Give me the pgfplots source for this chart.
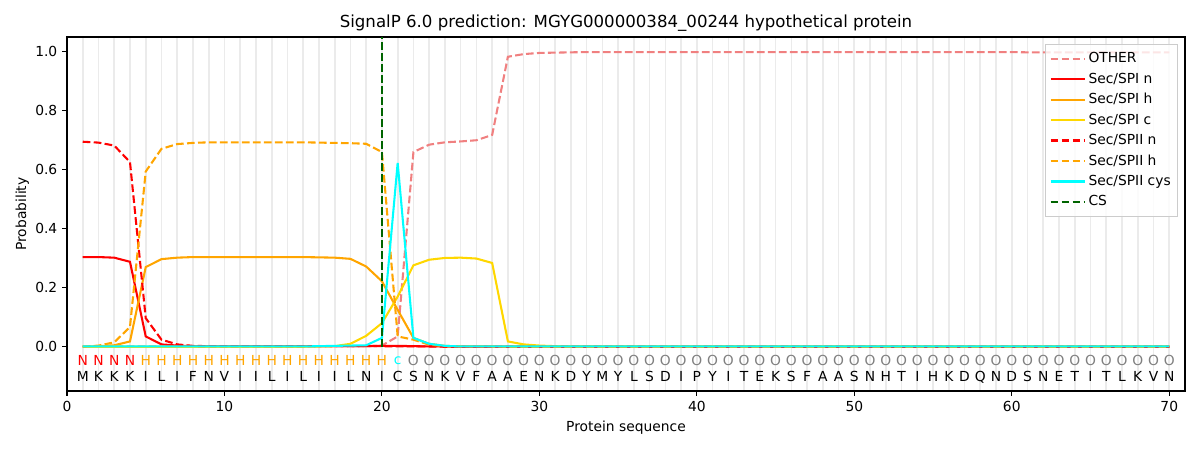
\documentclass[border=0pt]{standalone}
\usepackage{fontspec}
\setmainfont{DejaVu Sans}
\usepackage{pgfplots}
\usepackage{pgfplotstable}
\pgfplotsset{compat=1.18}
\definecolor{other}{HTML}{F08080}
\definecolor{myorange}{HTML}{FFA500}
\definecolor{mygold}{HTML}{FFD700}
\definecolor{mycyan}{HTML}{00FFFF}
\definecolor{mygreen}{HTML}{006400}
\definecolor{mygrid}{HTML}{EBEBEB}
\tikzset{reslab/.style={font=\fontsize{10}{12}\selectfont, inner sep=0pt, anchor=center}}

\pgfplotstableread{
x other spin spih spic spiin spiih cys
1 0.001 0.304 0.000 0.000 0.695 0.000 0.001
2 0.001 0.304 0.002 0.000 0.692 0.004 0.001
3 0.001 0.302 0.005 0.000 0.682 0.015 0.001
4 0.001 0.288 0.018 0.000 0.626 0.067 0.001
5 0.001 0.035 0.270 0.000 0.097 0.594 0.001
6 0.001 0.008 0.297 0.000 0.024 0.671 0.001
7 0.001 0.004 0.302 0.000 0.008 0.687 0.001
8 0.001 0.002 0.304 0.000 0.003 0.691 0.001
9 0.001 0.002 0.304 0.000 0.002 0.693 0.001
10 0.001 0.002 0.304 0.000 0.002 0.693 0.001
11 0.001 0.002 0.304 0.000 0.002 0.693 0.001
12 0.001 0.002 0.304 0.000 0.002 0.693 0.001
13 0.001 0.002 0.304 0.000 0.002 0.693 0.001
14 0.001 0.002 0.304 0.000 0.002 0.693 0.001
15 0.001 0.002 0.304 0.000 0.002 0.693 0.001
16 0.001 0.002 0.303 0.001 0.002 0.692 0.002
17 0.001 0.002 0.302 0.002 0.002 0.691 0.003
18 0.001 0.002 0.298 0.010 0.002 0.690 0.004
19 0.002 0.002 0.272 0.037 0.002 0.688 0.005
20 0.004 0.003 0.222 0.080 0.002 0.660 0.030
21 0.035 0.003 0.125 0.170 0.001 0.035 0.623
22 0.660 0.002 0.030 0.276 0.001 0.024 0.030
23 0.685 0.001 0.010 0.295 0.001 0.007 0.010
24 0.693 0.001 0.003 0.301 0.000 0.002 0.003
25 0.696 0.000 0.001 0.302 0.000 0.001 0.001
26 0.700 0.000 0.001 0.299 0.000 0.001 0.001
27 0.718 0.000 0.001 0.284 0.000 0.001 0.001
28 0.983 0.000 0.000 0.018 0.000 0.000 0.001
29 0.992 0.000 0.000 0.008 0.000 0.000 0.001
30 0.996 0.000 0.000 0.004 0.000 0.000 0.001
31 0.997 0.000 0.000 0.002 0.000 0.000 0.001
32 0.998 0.000 0.000 0.001 0.000 0.000 0.001
33 0.999 0.000 0.000 0.001 0.000 0.000 0.001
34 0.999 0.000 0.000 0.001 0.000 0.000 0.001
35 0.999 0.000 0.000 0.001 0.000 0.000 0.001
36 0.999 0.000 0.000 0.001 0.000 0.000 0.001
37 0.999 0.000 0.000 0.001 0.000 0.000 0.001
38 0.999 0.000 0.000 0.001 0.000 0.000 0.001
39 0.999 0.000 0.000 0.001 0.000 0.000 0.001
40 0.999 0.000 0.000 0.001 0.000 0.000 0.001
41 0.999 0.000 0.000 0.001 0.000 0.000 0.001
42 0.999 0.000 0.000 0.001 0.000 0.000 0.001
43 0.999 0.000 0.000 0.001 0.000 0.000 0.001
44 0.999 0.000 0.000 0.001 0.000 0.000 0.001
45 0.999 0.000 0.000 0.001 0.000 0.000 0.001
46 0.999 0.000 0.000 0.001 0.000 0.000 0.001
47 0.999 0.000 0.000 0.001 0.000 0.000 0.001
48 0.999 0.000 0.000 0.001 0.000 0.000 0.001
49 0.999 0.000 0.000 0.001 0.000 0.000 0.001
50 0.999 0.000 0.000 0.001 0.000 0.000 0.001
51 0.999 0.000 0.000 0.001 0.000 0.000 0.001
52 0.999 0.000 0.000 0.001 0.000 0.000 0.001
53 0.999 0.000 0.000 0.001 0.000 0.000 0.001
54 0.999 0.000 0.000 0.001 0.000 0.000 0.001
55 0.999 0.000 0.000 0.001 0.000 0.000 0.001
56 0.999 0.000 0.000 0.001 0.000 0.000 0.001
57 0.999 0.000 0.000 0.001 0.000 0.000 0.001
58 0.999 0.000 0.000 0.001 0.000 0.000 0.001
59 0.999 0.000 0.000 0.001 0.000 0.000 0.001
60 0.999 0.000 0.000 0.001 0.000 0.000 0.001
61 0.998 0.000 0.000 0.001 0.000 0.000 0.001
62 0.998 0.000 0.000 0.001 0.000 0.000 0.001
63 0.998 0.000 0.000 0.001 0.000 0.000 0.001
64 0.998 0.000 0.000 0.001 0.000 0.000 0.001
65 0.998 0.000 0.000 0.001 0.000 0.000 0.001
66 0.998 0.000 0.000 0.001 0.000 0.000 0.001
67 0.998 0.000 0.000 0.001 0.000 0.000 0.001
68 0.998 0.000 0.000 0.001 0.000 0.000 0.001
69 0.998 0.000 0.000 0.001 0.000 0.000 0.001
70 0.998 0.000 0.000 0.001 0.000 0.000 0.001
}\datatable

\pgfplotstableread{
x y
20 0
20 1.05
}\cstable

\begin{document}
\begin{tikzpicture}
\path (-0.67in,-0.59in) rectangle (11.33in,3.91in);
\begin{axis}[
  scale only axis,
  width=11.18in, height=3.54in,
  at={(0,0)}, anchor=south west,
  xmin=0, xmax=71, ymin=-0.15, ymax=1.05,
  xtick={0,10,...,70},
  ytick={0,0.2,...,1.0},
  yticklabel style={/pgf/number format/fixed, /pgf/number format/fixed zerofill, /pgf/number format/precision=1},
  /pgf/number format/assume math mode=true,
  minor xtick={1,...,70},
  xminorgrids=true,
  minor grid style={mygrid, line width=1.2pt},
  minor tick length=0pt,
  tick align=outside,
  major tick length=3.5pt,
  xtick pos=bottom, ytick pos=left,
  tick style={black, line width=0.8pt},
  axis line style={line width=0.8pt},
  ticklabel style={font=\fontsize{10}{12}\selectfont},
  title={SignalP 6.0 prediction: MGYG000000384\_00244 hypothetical protein},
  title style={font=\fontsize{12}{14}\selectfont, at={(axis description cs:0.5,1.0395)}, anchor=center, yshift=-6pt},
  xlabel={Protein sequence},
  xlabel style={font=\fontsize{10}{12}\selectfont, at={(axis description cs:0.5,-0.1045)}, anchor=center},
  ylabel={Probability},
  ylabel style={font=\fontsize{10}{12}\selectfont, at={(axis description cs:-0.040,0.5)}, anchor=center},
  legend style={at={(axis description cs:0.9937,0.9802)}, anchor=north east, draw=black!20, fill=white, fill opacity=0.8, text opacity=1, font=\fontsize{10}{12}\selectfont, row sep=1.8pt, inner ysep=4pt, inner xsep=3pt},
  legend cell align=left,
  legend image code/.code={\draw[#1] (0pt,0pt) -- (20pt,0pt); \path (0pt,0pt) -- (24.5pt,0pt);},
  every axis plot/.append style={line width=1.5pt},
  clip=false,
]
\addplot[other, dash pattern=on 5.55pt off 2.4pt] table[x=x,y=other] {\datatable};
\addlegendentry{OTHER}
\addplot[red] table[x=x,y=spin] {\datatable};
\addlegendentry{Sec/SPI n}
\addplot[myorange] table[x=x,y=spih] {\datatable};
\addlegendentry{Sec/SPI h}
\addplot[mygold] table[x=x,y=spic] {\datatable};
\addlegendentry{Sec/SPI c}
\addplot[red, dash pattern=on 5.55pt off 2.4pt] table[x=x,y=spiin] {\datatable};
\addlegendentry{Sec/SPII n}
\addplot[myorange, dash pattern=on 5.55pt off 2.4pt] table[x=x,y=spiih] {\datatable};
\addlegendentry{Sec/SPII h}
\addplot[mycyan] table[x=x,y=cys] {\datatable};
\addlegendentry{Sec/SPII cys}
\addplot[mygreen, dash pattern=on 5.55pt off 2.4pt] table[x=x,y=y] {\cstable};
\addlegendentry{CS}

\foreach \i/\a in {1/M,2/K,3/K,4/K,5/I,6/L,7/I,8/F,9/N,10/V,11/I,12/I,13/L,14/I,15/L,16/I,17/I,18/L,19/N,20/I,21/C,22/S,23/N,24/K,25/V,26/F,27/A,28/A,29/E,30/N,31/K,32/D,33/Y,34/M,35/Y,36/L,37/S,38/D,39/I,40/P,41/Y,42/I,43/T,44/E,45/K,46/S,47/F,48/A,49/A,50/S,51/N,52/H,53/T,54/I,55/H,56/K,57/D,58/Q,59/N,60/D,61/S,62/N,63/E,64/T,65/I,66/T,67/L,68/K,69/V,70/N} {
  \edef\temp{\noexpand\node[reslab] at (axis cs:\i,-0.102) {\a};}\temp
}
\pgfplotsinvokeforeach{1,...,4}{\node[reslab, text=red] at (axis cs:#1,-0.047) {N};}
\pgfplotsinvokeforeach{5,...,20}{\node[reslab, text=myorange] at (axis cs:#1,-0.047) {H};}
\node[reslab, text=mycyan] at (axis cs:21,-0.047) {c};
\pgfplotsinvokeforeach{22,...,70}{\node[reslab, text=gray] at (axis cs:#1,-0.047) {O};}
\end{axis}
\end{tikzpicture}
\end{document}
